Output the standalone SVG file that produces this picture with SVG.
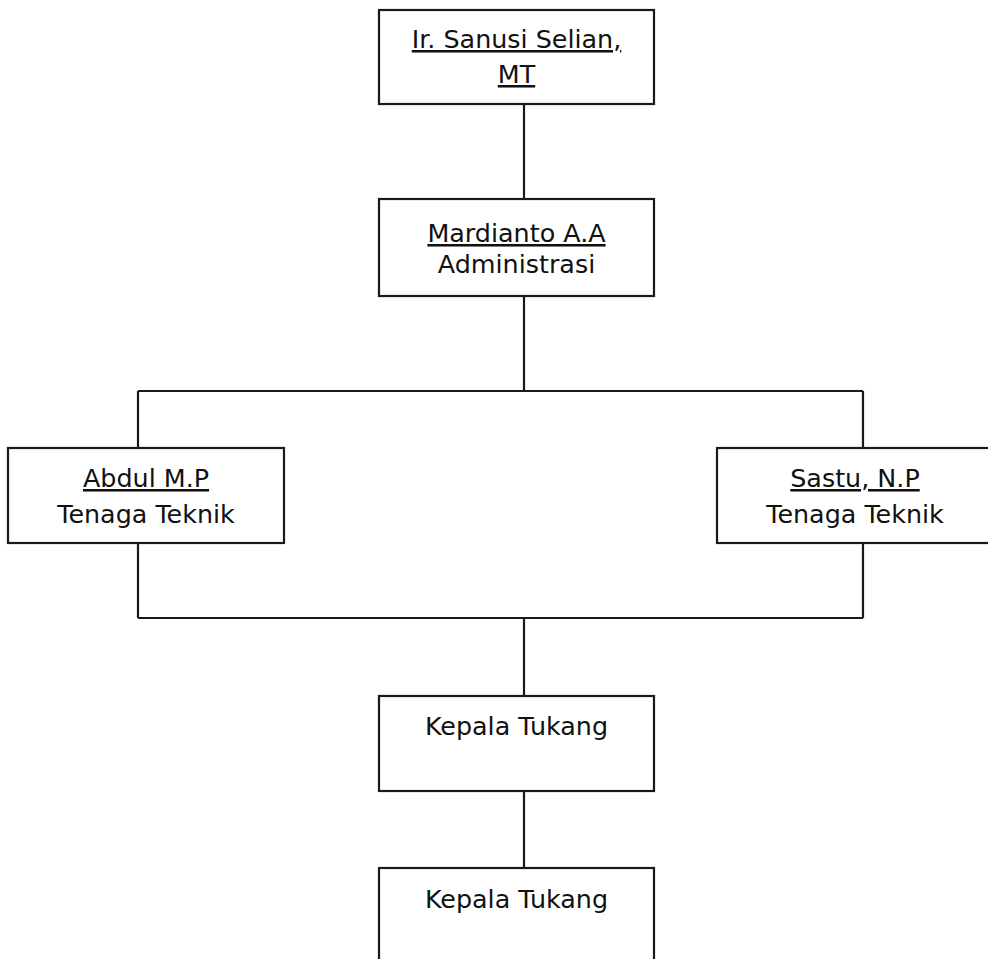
<svg xmlns="http://www.w3.org/2000/svg" width="988" height="959" viewBox="0 0 988 959">
<style>
.box{fill:#fff;stroke:#1a1a1a;stroke-width:2.2}
.ln{fill:none;stroke:#1a1a1a;stroke-width:2.2}
text{font-family:"DejaVu Sans","Liberation Sans",sans-serif;font-size:25.4px;fill:#111;text-anchor:middle}
.u{text-decoration:underline}
</style>
<rect width="988" height="959" fill="#fff"/>
<g id="connectors">
<path class="ln" d="M524 104V199M524 296V391M138 391H863M138 391V448M863 391V448M138 543V618M863 543V618M138 618H863M524 618V696M524 791V868"/>
</g>
<g id="n1"><rect class="box" x="379" y="10" width="275" height="94"/><text class="u" x="516.5" y="48">Ir. Sanusi Selian,</text><text class="u" x="516.5" y="83">MT</text></g>
<g id="n2"><rect class="box" x="379" y="199" width="275" height="97"/><text class="u" x="516.5" y="242">Mardianto A.A</text><text x="516.5" y="273">Administrasi</text></g>
<g id="n3"><rect class="box" x="8" y="448" width="276" height="95"/><text class="u" x="146" y="487">Abdul M.P</text><text x="146" y="523">Tenaga Teknik</text></g>
<g id="n4"><rect class="box" x="717" y="448" width="276" height="95"/><text class="u" x="855" y="487">Sastu, N.P</text><text x="855" y="523">Tenaga Teknik</text></g>
<g id="n5"><rect class="box" x="379" y="696" width="275" height="95"/><text x="516.5" y="735">Kepala Tukang</text></g>
<g id="n6"><rect class="box" x="379" y="868" width="275" height="100"/><text x="516.5" y="908">Kepala Tukang</text></g>
</svg>
